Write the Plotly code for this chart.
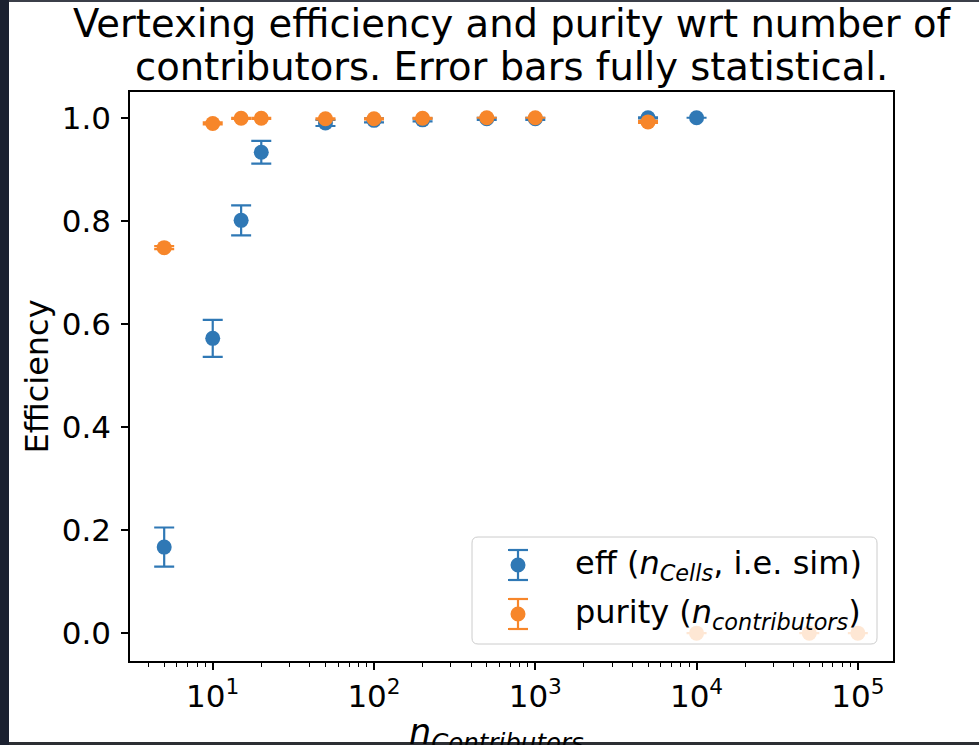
import plotly.graph_objects as go

# ---------------- data ----------------
n_eff = [5, 10, 15, 20, 50, 100, 200, 500, 1000, 5000, 10000]
eff = [0.167, 0.572, 0.801, 0.933, 0.990, 0.995, 0.996, 0.998, 0.998, 1.000, 1.000]
eff_err = [0.038, 0.036, 0.029, 0.022, 0.006, 0.004, 0.003, 0.002, 0.002, 0.001, 0.000]

n_pur = [5, 10, 15, 20, 50, 100, 200, 500, 1000, 5000, 10000, 50000, 100000]
pur = [0.748, 0.989, 0.999, 0.999, 0.998, 0.998, 0.999, 1.000, 1.000, 0.992, 0.0, 0.0, 0.0]
pur_err = [0.003, 0.002, 0.001, 0.001, 0.001, 0.001, 0.001, 0.000, 0.000, 0.002, 0.0, 0.0, 0.0]

x_tick_vals = [10, 100, 1000, 10000, 100000]
x_tick_text = ["10<sup>1</sup>", "10<sup>2</sup>", "10<sup>3</sup>", "10<sup>4</sup>", "10<sup>5</sup>"]
x_minor_vals = [m * 10 ** d for d in range(0, 5) for m in range(2, 10)]
y_tick_vals = [0.0, 0.2, 0.4, 0.6, 0.8, 1.0]
y_tick_text = ["0.0", "0.2", "0.4", "0.6", "0.8", "1.0"]

title_lines = ["Vertexing efficiency and purity wrt number of",
               "contributors. Error bars fully statistical."]
legend_labels = ["eff (<i>n</i><sub><i>Cells</i></sub>, i.e. sim)",
                 "purity (<i>n</i><sub><i>contributors</i></sub>)"]
x_label = "<i>n</i><sub><i>Contributors</i></sub>"
y_label = "Efficiency"

BLUE = "#2f78b5"
ORANGE = "#f7862a"
FONT = "DejaVu Sans"

# ---------------- geometry ----------------
W, H = 979, 745
ML, MR, MT, MB = 130, 86, 92, 84
PW = W - ML - MR
PH = H - MT - MB


def px(xp):
    return (xp - ML) / PW


def py(yp):
    return (H - MB - yp) / PH


fig = go.Figure()
fig.add_trace(go.Scatter(
    x=n_eff, y=eff, mode="markers", name="eff",
    marker=dict(color=BLUE, size=15, line=dict(width=0)),
    error_y=dict(type="data", array=eff_err, color=BLUE, thickness=2.2, width=10),
    showlegend=False,
))
fig.add_trace(go.Scatter(
    x=n_pur, y=pur, mode="markers", name="purity",
    marker=dict(color=ORANGE, size=15, line=dict(width=0)),
    error_y=dict(type="data", array=pur_err, color=ORANGE, thickness=2.2, width=10),
    showlegend=False,
))

shapes = []
# screenshot frame strips
shapes.append(dict(type="rect", xref="paper", yref="paper", layer="above",
                   x0=px(0), x1=px(9), y0=py(H), y1=py(0),
                   fillcolor="#1b2130", line=dict(width=0)))
shapes.append(dict(type="rect", xref="paper", yref="paper", layer="above",
                   x0=px(9), x1=px(W), y0=py(2), y1=py(0),
                   fillcolor="#3b3f49", line=dict(width=0)))
shapes.append(dict(type="rect", xref="paper", yref="paper", layer="above",
                   x0=px(9), x1=px(W), y0=py(H), y1=py(742),
                   fillcolor="#2c2e33", line=dict(width=0)))

# legend box (rounded)
bx0, bx1, by0, by1, r = 472, 877, 537, 644, 6
path = (f"M {px(bx0 + r)},{py(by0)} L {px(bx1 - r)},{py(by0)} "
        f"Q {px(bx1)},{py(by0)} {px(bx1)},{py(by0 + r)} "
        f"L {px(bx1)},{py(by1 - r)} Q {px(bx1)},{py(by1)} {px(bx1 - r)},{py(by1)} "
        f"L {px(bx0 + r)},{py(by1)} Q {px(bx0)},{py(by1)} {px(bx0)},{py(by1 - r)} "
        f"L {px(bx0)},{py(by0 + r)} Q {px(bx0)},{py(by0)} {px(bx0 + r)},{py(by0)} Z")
shapes.append(dict(type="path", xref="paper", yref="paper", layer="above", path=path,
                   fillcolor="rgba(255,255,255,0.8)", line=dict(color="#cccccc", width=1)))

annotations = []
gx = 518
for row_y, col, label in [(565, BLUE, legend_labels[0]), (614, ORANGE, legend_labels[1])]:
    shapes.append(dict(type="line", xref="paper", yref="paper", layer="above",
                       x0=px(gx), x1=px(gx), y0=py(row_y - 15), y1=py(row_y + 15),
                       line=dict(color=col, width=2.2)))
    for cy in (row_y - 15, row_y + 15):
        shapes.append(dict(type="line", xref="paper", yref="paper", layer="above",
                           x0=px(gx - 10), x1=px(gx + 10), y0=py(cy), y1=py(cy),
                           line=dict(color=col, width=2.2)))
    shapes.append(dict(type="circle", xref="paper", yref="paper", layer="above",
                       x0=px(gx - 7.5), x1=px(gx + 7.5), y0=py(row_y - 7.5), y1=py(row_y + 7.5),
                       fillcolor=col, line=dict(width=0)))
    annotations.append(dict(text=label, xref="paper", yref="paper", x=px(573), y=py(row_y),
                            xanchor="left", yanchor="middle", showarrow=False,
                            font=dict(family=FONT, size=32, color="black")))

# title (two centred lines)
for ty, line in [(23, title_lines[0]), (66, title_lines[1])]:
    annotations.append(dict(text=line, xref="paper", yref="paper", x=0.5, y=py(ty),
                            xanchor="center", yanchor="middle", showarrow=False,
                            font=dict(family=FONT, size=38.5, color="black")))

annotations.append(dict(text=x_label, xref="paper", yref="paper", x=px(496), y=py(710),
                        xanchor="center", yanchor="top", showarrow=False,
                        font=dict(family=FONT, size=35, color="black")))
annotations.append(dict(text=y_label, xref="paper", yref="paper", x=px(36), y=0.5,
                        xanchor="center", yanchor="middle", textangle=-90, showarrow=False,
                        font=dict(family=FONT, size=32, color="black")))

axis_common = dict(
    showline=True, linecolor="black", linewidth=1.5, mirror=True,
    ticks="outside", ticklen=7, tickwidth=1.5, tickcolor="black",
    showgrid=False, zeroline=False,
    tickfont=dict(family=FONT, size=31, color="black"),
)

fig.update_layout(
    width=W, height=H,
    margin=dict(l=ML, r=MR, t=MT, b=MB),
    paper_bgcolor="white", plot_bgcolor="white",
    xaxis=dict(type="log", range=[0.487, 5.218], tickmode="array",
               tickvals=x_tick_vals, ticktext=x_tick_text,
               minor=dict(tickmode="array", tickvals=x_minor_vals, ticks="outside",
                          ticklen=4, tickwidth=1.2, tickcolor="black", showgrid=False),
               **axis_common),
    yaxis=dict(range=[-0.054, 1.050], tickmode="array",
               tickvals=y_tick_vals, ticktext=y_tick_text,
               ticklabelstandoff=4, **axis_common),
    shapes=shapes,
    annotations=annotations,
    showlegend=False,
)

fig.write_html("out.html")
